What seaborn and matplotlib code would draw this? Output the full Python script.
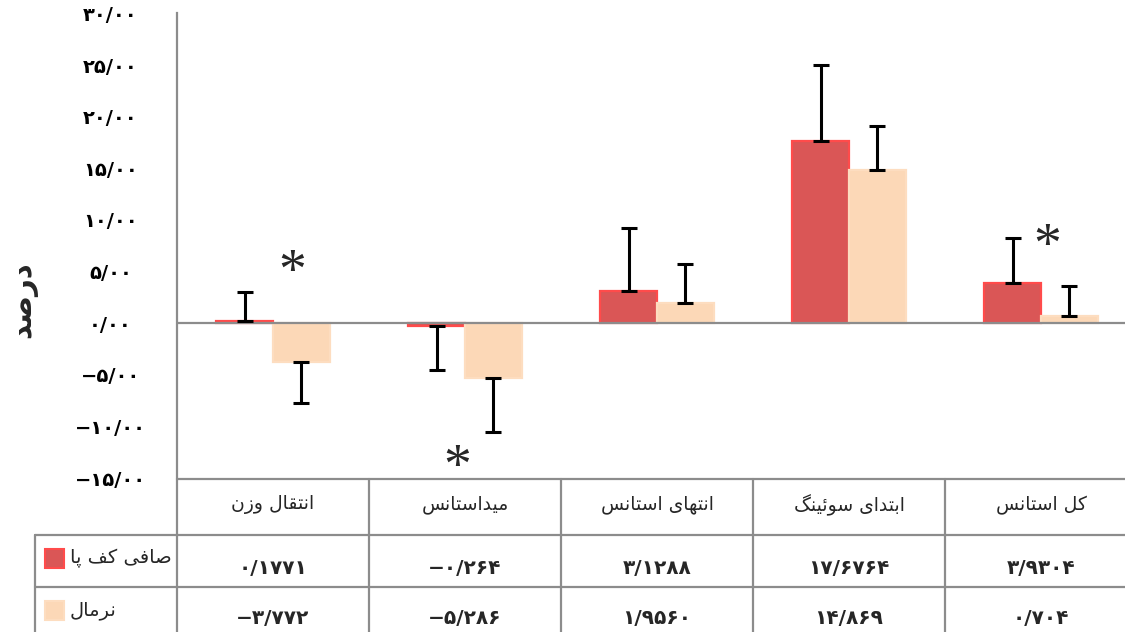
import matplotlib
matplotlib.use("Agg")
import matplotlib.pyplot as plt
import pandas as pd
import seaborn as sns
from matplotlib.patches import Rectangle
from matplotlib.transforms import blended_transform_factory

# ---------------------------------------------------------------- data
phases = ["انتقال وزن", "میداستانس", "انتهای استانس", "ابتدای سوئینگ", "کل استانس"]
groups = ["صافی کف پا", "نرمال"]
flatfoot_values = ["0.1771", "-0.264", "3.1288", "17.6764", "3.9304"]
normal_values = ["-3.772", "-5.286", "1.9560", "14.869", "0.704"]
flatfoot_sd = [2.88, 4.26, 6.07, 7.33, 4.30]
normal_sd = [3.97, 5.27, 3.76, 4.23, 2.94]
y_ticks = [-15, -10, -5, 0, 5, 10, 15, 20, 25, 30]
y_label = "درصد"

RED = "#DA5656"
RED_EDGE = "#FF4B4B"
PEACH = "#FCD8B7"
PEACH_EDGE = "#FDDDC0"
GRID = "#8C8C8C"

# ------------------------------------------------- Persian text helpers
# (isolated, final, initial, medial); right-joining letters have no initial/medial
_FORMS = {
    "ا": ("\uFE8D", "\uFE8E", None, None),
    "ب": ("\uFE8F", "\uFE90", "\uFE91", "\uFE92"),
    "پ": ("\uFB56", "\uFB57", "\uFB58", "\uFB59"),
    "ت": ("\uFE95", "\uFE96", "\uFE97", "\uFE98"),
    "د": ("\uFEA9", "\uFEAA", None, None),
    "ر": ("\uFEAD", "\uFEAE", None, None),
    "ز": ("\uFEAF", "\uFEB0", None, None),
    "س": ("\uFEB1", "\uFEB2", "\uFEB3", "\uFEB4"),
    "ص": ("\uFEB9", "\uFEBA", "\uFEBB", "\uFEBC"),
    "ف": ("\uFED1", "\uFED2", "\uFED3", "\uFED4"),
    "ق": ("\uFED5", "\uFED6", "\uFED7", "\uFED8"),
    "ک": ("\uFB8E", "\uFB8F", "\uFB90", "\uFB91"),
    "گ": ("\uFB92", "\uFB93", "\uFB94", "\uFB95"),
    "ل": ("\uFEDD", "\uFEDE", "\uFEDF", "\uFEE0"),
    "م": ("\uFEE1", "\uFEE2", "\uFEE3", "\uFEE4"),
    "ن": ("\uFEE5", "\uFEE6", "\uFEE7", "\uFEE8"),
    "ه": ("\uFEE9", "\uFEEA", "\uFEEB", "\uFEEC"),
    "و": ("\uFEED", "\uFEEE", None, None),
    "ی": ("\uFBFC", "\uFBFD", "\uFBFE", "\uFBFF"),
    "ئ": ("\uFE89", "\uFE8A", "\uFE8B", "\uFE8C"),
}


def rtl(text):
    """Join Persian letters into their contextual forms and lay them out right-to-left."""
    out = []
    for i, ch in enumerate(text):
        forms = _FORMS.get(ch)
        if forms is None:
            out.append(ch)
            continue
        prev = text[i - 1] if i > 0 else None
        nxt = text[i + 1] if i + 1 < len(text) else None
        joins_prev = prev in _FORMS and _FORMS[prev][2] is not None
        joins_next = forms[2] is not None and nxt in _FORMS
        if joins_prev and joins_next:
            out.append(forms[3])
        elif joins_prev:
            out.append(forms[1])
        elif joins_next:
            out.append(forms[2])
        else:
            out.append(forms[0])
    return "".join(reversed(out))


_DIGITS = str.maketrans("0123456789.-", "۰۱۲۳۴۵۶۷۸۹/\u2212")


def fa_num(s):
    return s.translate(_DIGITS)


# ---------------------------------------------------------------- frame
rows = []
for g, vals in zip(groups, [flatfoot_values, normal_values]):
    for p, v in zip(phases, vals):
        rows.append({"phase": p, "group": g, "value": float(v)})
df = pd.DataFrame(rows)

sns.set_theme(style="white")
plt.rcParams["font.family"] = ["DejaVu Sans"]

fig = plt.figure(figsize=(11.25, 6.32), dpi=100)
W, H = 1125, 632
ax = fig.add_axes([177 / W, 1 - 478 / H, 948 / W, 464.6 / H])

sns.barplot(
    data=df, x="phase", y="value", hue="group",
    order=phases, hue_order=groups,
    palette=[RED, PEACH], saturation=1, width=0.59,
    errorbar=None, legend=False, ax=ax, zorder=2,
)

# bar outlines and one-sided error bars (extending away from zero)
for cont, edge, vals, sds in zip(ax.containers, [RED_EDGE, PEACH_EDGE],
                                 [flatfoot_values, normal_values],
                                 [flatfoot_sd, normal_sd]):
    xs, ys, lo, hi = [], [], [], []
    for bar, v, sd in zip(cont.patches, vals, sds):
        bar.set_edgecolor(edge)
        bar.set_linewidth(1.6)
        v = float(v)
        xs.append(bar.get_x() + bar.get_width() / 2)
        ys.append(v)
        lo.append(sd if v < 0 else 0)
        hi.append(sd if v >= 0 else 0)
    ax.errorbar(xs, ys, yerr=[lo, hi], fmt="none", ecolor="black",
                elinewidth=2.2, capsize=6, capthick=2.2, zorder=4)

ax.axhline(0, color=GRID, lw=1.6, zorder=3)

ax.set_ylim(-15, 30)
ax.set_xlim(-0.5, 4.4375)
ax.set_yticks(y_ticks)
ax.set_yticklabels([fa_num(f"{t:.2f}") for t in y_ticks], fontweight="bold",
                   ha="center")
ax.tick_params(axis="y", length=0, pad=48, labelsize=14, labelcolor="black")
ax.tick_params(axis="x", length=0, labelbottom=False)
ax.set_xlabel("")
ax.set_ylabel("")
for side in ["top", "right", "bottom"]:
    ax.spines[side].set_visible(False)
ax.spines["left"].set_color(GRID)
ax.spines["left"].set_linewidth(1.6)

fig.text(23 / W, 1 - 300 / H, rtl(y_label), rotation=90, ha="center", va="center",
         fontsize=21, fontweight="bold")

# significance markers
for x, y in [(0.10, 4.75), (0.96, -14.1), (4.03, 7.3)]:
    ax.text(x, y, "*", ha="center", va="center", fontsize=40,
            family="Liberation Serif", zorder=5)

# ---------------------------------------------------------- data table
tr = blended_transform_factory(ax.transData, ax.transAxes)


def fy(py):
    return (478 - py) / 464.6


def line(x0, x1, y0, y1):
    ax.plot([x0, x1], [y0, y1], transform=tr, clip_on=False, color=GRID, lw=1.6)


label_left = -0.5 + (35 - 177) / 192
line(-0.5, 4.5, fy(479), fy(479))
for py in (535, 587, 642):
    line(label_left, 4.5, fy(py), fy(py))
for i in range(len(phases) + 1):
    line(i - 0.5, i - 0.5, fy(479), fy(650))
line(label_left, label_left, fy(535), fy(650))

for i, p in enumerate(phases):
    ax.text(i, fy(505), rtl(p), transform=tr, ha="center", va="center", fontsize=13.5)
    ax.text(i, fy(569), fa_num(flatfoot_values[i]), transform=tr, ha="center",
            va="center", fontsize=14.5, fontweight="bold")
    ax.text(i, fy(619), fa_num(normal_values[i]), transform=tr, ha="center",
            va="center", fontsize=14.5, fontweight="bold")

sw = 19 / 192
sh = 19 / 464.6
for g, fc, ec, py in [(groups[0], RED, RED_EDGE, 558), (groups[1], PEACH, PEACH_EDGE, 610)]:
    x0 = -0.5 + (45 - 177) / 192
    ax.add_patch(Rectangle((x0, fy(py) - sh / 2), sw, sh, transform=tr,
                           facecolor=fc, edgecolor=ec, lw=1.5, clip_on=False))
    ax.text(-0.5 + (70 - 177) / 192, fy(py), rtl(g), transform=tr, ha="left",
            va="center", fontsize=14)

fig.savefig("out.png", dpi=100)
